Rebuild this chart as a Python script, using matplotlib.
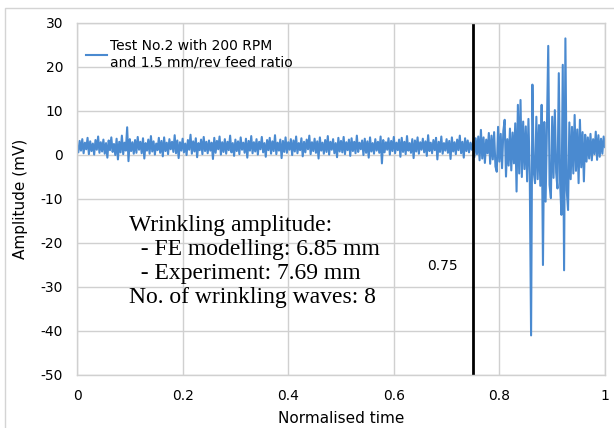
import numpy as np
import matplotlib
matplotlib.use("Agg")
import matplotlib.pyplot as plt
from matplotlib.patches import Rectangle

plt.rcParams['font.family'] = ['DejaVu Sans']
plt.rcParams['axes.unicode_minus'] = False

# signal before the onset (normalised time 0 .. 0.7475)
quiet = [
    2.1, 0.6, 3.2, 1.0, 3.6, 0.4, 2.8, 1.3, 3.9, 0.2, 3.1, 0.9, 2.6, 0.1, 3.4, 1.2, 4.2, 0.5, 2.9, 0.8,
    3.5, 0.3, 2.7, -0.6, 3.3, 1.1, 4.0, 0.7, 2.5, 0.0, 3.7, -1.0, 3.0, 0.6, 4.4, 0.2, 2.8, 1.0, 6.3, -1.4,
    3.6, 0.9, 2.9, 0.3, 3.4, 0.5, 4.1, 1.2, 3.0, 0.4, 3.8, -0.8, 2.7, 1.0, 3.5, 0.3, 4.3, 0.8, 3.1, 0.1,
    2.6, 1.1, 3.9, 0.5, 3.2, -0.3, 4.0, 0.9, 2.8, 0.2, 3.6, 1.3, 3.0, 0.7, 4.5, 0.4, 3.3, -0.7, 2.9, 1.0,
    3.7, 0.6, 2.6, 0.0, 3.4, 1.2, 4.6, 0.3, 3.1, 0.8, 3.8, -0.5, 2.7, 1.1, 3.5, 0.2, 4.1, 0.9, 3.0, 0.4,
    3.3, 1.0, 2.8, -0.9, 3.9, 0.5, 3.2, 1.3, 4.2, 0.1, 2.9, 0.7, 3.6, 0.3, 3.0, 1.1, 4.4, 0.6, 2.7, -0.2,
    3.5, 0.9, 3.1, 0.2, 4.0, 1.2, 2.8, 0.5, 3.7, -0.6, 3.2, 1.0, 4.3, 0.4, 2.9, 0.8, 3.6, 0.1, 3.0, 1.3,
    4.1, 0.6, 2.7, -0.4, 3.4, 1.1, 3.9, 0.3, 3.1, 0.9, 4.5, 0.2, 2.8, 1.0, 3.5, -0.7, 3.2, 0.7, 4.0, 0.5,
    2.9, 1.2, 3.6, 0.0, 3.3, 0.8, 4.2, 0.4, 2.7, 1.1, 3.8, -0.3, 3.0, 0.6, 3.5, 1.3, 4.4, 0.2, 2.9, 0.9,
    3.7, 0.5, 3.1, -0.8, 4.0, 1.0, 2.8, 0.3, 3.4, 0.7, 4.3, 0.1, 3.0, 1.2, 3.6, 0.4, 2.7, -0.5, 3.9, 0.8,
    3.2, 0.6, 4.1, 0.2, 2.9, 1.1, 3.5, -0.2, 3.8, 0.9, 3.0, 0.4, 4.4, 0.7, 2.8, 1.3, 3.3, 0.0, 3.7, 0.5,
    3.1, -0.6, 4.0, 0.8, 2.7, 0.3, 3.6, 1.0, 3.0, 0.5, 4.2, -1.9, 3.4, 0.6, 2.9, 1.2, 3.8, 0.1, 3.2, 0.9,
    4.1, 0.4, 2.8, 1.1, 3.5, -0.4, 3.9, 0.7, 3.0, 0.2, 4.3, 1.0, 2.7, 0.5, 3.6, -0.7, 3.3, 0.8, 4.0, 0.3,
    2.9, 1.2, 3.7, 0.6, 3.1, -0.2, 4.5, 0.9, 2.8, 0.4, 3.4, 1.1, 3.9, -1.0, 3.0, 0.7, 4.2, 0.3, 2.7, 1.0,
    3.6, 0.5, 3.2, -0.9, 4.0, 0.8, 2.9, 0.2, 3.5, 1.1, 4.4, 0.4, 3.0, -0.6, 3.8, 0.9, 3.3, 0.6, 2.8, 1.2,
]

# signal from the onset (0.75 .. 1.0)
active = [
    3.0, -0.5, 3.8, 0.2, 4.2, -1.2, 5.7, -0.8, 4.0, -1.8,
    3.5, 0.4, 5.0, -2.0, 4.4, -1.0, 5.2, -2.6, -3.8, 6.4,
    -1.5, 4.8, -3.0, 5.5, 8.0, -4.9, 3.6, -2.4, 6.0, -3.5,
    5.1, -1.9, 7.2, -8.3, 11.4, -4.2, 12.5, -5.0, 7.6, -3.2,
    6.5, -6.0, 8.2, -4.5, -41.0, 16.0, -3.8, -6.4, 8.7, -5.5,
    6.8, -7.0, 11.4, -25.0, 7.5, -10.6, 6.2, 24.8, -6.8, -9.8,
    8.7, -5.2, 10.2, -4.0, -7.6, 18.6, -6.5, -13.6, 20.5, -26.2,
    26.5, -8.0, -12.5, 7.4, -5.5, 6.4, -4.2, 9.1, -3.6, 5.8,
    -6.4, 8.0, -2.8, 5.2, -6.0, 4.6, -1.5, 4.0, -0.8, 4.8,
    -1.2, 3.6, 0.2, 5.3, -1.1, 4.5, -0.4, 3.7, 0.3, 4.2,
    1.8,
]

amplitude = np.array(quiet + active)
norm_time = np.linspace(0.0, 1.0, len(amplitude))
onset = 0.75

fig = plt.figure(figsize=(6.14, 4.28), dpi=100)
fig.patches.append(Rectangle((5/614, -0.1), 1.2, 0.9813 + 0.1, transform=fig.transFigure,
                             fill=False, edgecolor='#d4d4d4', linewidth=1.0))
ax = fig.add_axes([77/614, 1 - 375/428, 528/614, 352/428])

ax.plot(norm_time, amplitude, color='#4a8ad0', linewidth=1.5,
        label='Test No.2 with 200 RPM\nand 1.5 mm/rev feed ratio')
ax.axvline(onset, color='black', linewidth=2.0)

ax.set_xlim(0, 1)
ax.set_ylim(-50, 30)
ax.set_xticks(np.arange(0, 1.01, 0.2))
ax.set_xticklabels(['0', '0.2', '0.4', '0.6', '0.8', '1'])
ax.set_yticks(np.arange(-50, 31, 10))
ax.grid(True, color='#d0d0d0', linewidth=1.0)
ax.set_axisbelow(True)
for s in ax.spines.values():
    s.set_color('#d0d0d0')
    s.set_linewidth(1.0)
ax.tick_params(length=0, labelsize=10)
ax.tick_params(axis='x', pad=10)
ax.tick_params(axis='y', pad=10)

ax.set_xlabel('Normalised time', fontsize=11, labelpad=6)
ax.set_ylabel('Amplitude (mV)', fontsize=11, labelpad=9)

leg = ax.legend(loc='upper left', bbox_to_anchor=(0.017, 0.955), frameon=False, fontsize=10,
                handlelength=1.5, handletextpad=0.2, borderpad=0, borderaxespad=0)

ax.text(0.0985, -24.2, 'Wrinkling amplitude:\n  - FE modelling: 6.85 mm\n  - Experiment: 7.69 mm\nNo. of wrinkling waves: 8',
        fontsize=17, family='Liberation Serif', va='center', ha='left', linespacing=1.2)
ax.text(0.693, -25.2, '0.75', fontsize=10, ha='center', va='center')

fig.savefig('out.png', dpi=100)
